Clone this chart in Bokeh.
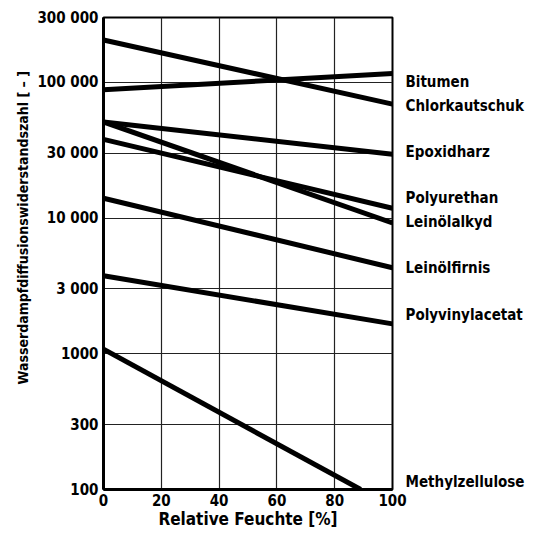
from bokeh.plotting import figure
from bokeh.models import Range1d, FixedTicker, LogAxis, Title
from bokeh.embed import file_html
from bokeh.resources import INLINE

# ---- data ----
materials = ["Bitumen", "Chlorkautschuk", "Epoxidharz", "Polyurethan",
             "Leinölalkyd", "Leinölfirnis", "Polyvinylacetat", "Methylzellulose"]
x_start = [0, 0, 0, 0, 0, 0, 0, 0]
x_end = [100, 100, 100, 100, 100, 100, 100, 89]
mu_start = [88000, 205000, 51000, 38000, 51000, 14000, 3750, 1080]
mu_end = [116000, 69000, 29500, 11800, 9200, 4300, 1660, 100]
label_y = [100000, 66500, 30500, 14000, 9300, 4300, 1930, 114]

x_ticks = [0, 20, 40, 60, 80, 100]
y_ticks = [100, 300, 1000, 3000, 10000, 30000, 100000, 300000]
y_tick_labels = ["100", "300", "1000", "3 000", "10 000", "30 000", "100 000", "300 000"]

FONT = "DejaVu Sans Condensed"

p = figure(width=530, height=531, output_backend="svg", toolbar_location=None,
           y_axis_type="log", x_range=Range1d(0, 100), y_range=Range1d(100, 300000),
           min_border_left=103, min_border_right=138, min_border_top=17, min_border_bottom=38)

p.outline_line_color = "black"
p.outline_line_width = 2

for xs, xe, s, e in zip(x_start, x_end, mu_start, mu_end):
    p.line([xs, xe], [s, e], line_color="black", line_width=5)

xax = p.xaxis[0]
yax = p.yaxis[0]
xax.ticker = FixedTicker(ticks=x_ticks)
yax.ticker = FixedTicker(ticks=y_ticks)
yax.major_label_overrides = {t: l for t, l in zip(y_ticks, y_tick_labels)}

# right-hand labels as a second log axis
rax = LogAxis(ticker=FixedTicker(ticks=label_y),
              major_label_overrides={v: m for v, m in zip(label_y, materials)})
p.add_layout(rax, "right")

for ax in (xax, yax, rax):
    ax.axis_line_width = 3
    ax.axis_line_color = "black"
    ax.major_tick_out = 0
    ax.major_tick_in = 0
    ax.minor_tick_out = 0
    ax.minor_tick_in = 0
    ax.major_label_standoff = 5
    ax.major_label_text_font = FONT
    ax.major_label_text_font_style = "bold"
    ax.major_label_text_font_size = "15px"
    ax.major_label_text_color = "black"
    ax.axis_label_text_font = FONT
    ax.axis_label_text_font_style = "bold"
    ax.axis_label_text_color = "black"
rax.axis_line_color = None
rax.major_label_standoff = 13
xax.major_label_standoff = 4

xax.axis_label = "Relative Feuchte [%]"
xax.axis_label_standoff = 0
xax.axis_label_text_font_size = "17px"

ytitle = Title(text="Wasserdampfdiffusionswiderstandszahl   [ – ]", align="left", offset=105,
               text_font=FONT, text_font_style="bold", text_font_size="14px",
               text_color="black", standoff=7)
p.add_layout(ytitle, "left")

p.xgrid.ticker = FixedTicker(ticks=x_ticks)
p.ygrid.ticker = FixedTicker(ticks=y_ticks)
for g in (p.xgrid, p.ygrid):
    g.grid_line_color = "#222222"
    g.grid_line_width = 1.2

open("out.html", "w").write(file_html(p, INLINE))
